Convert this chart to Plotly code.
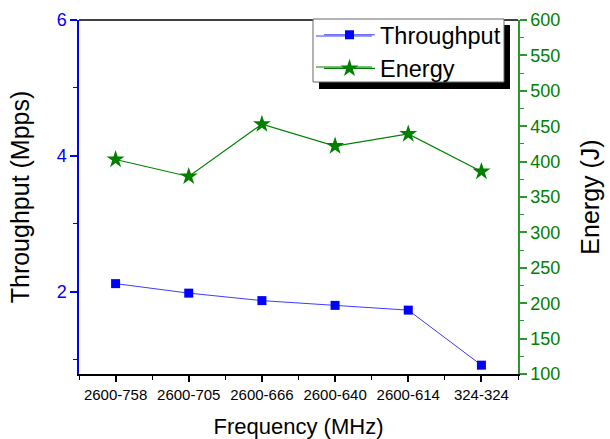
import plotly.graph_objects as go

categories = ["2600-758", "2600-705", "2600-666", "2600-640", "2600-614", "324-324"]
throughput = [2.12, 1.98, 1.87, 1.80, 1.73, 0.92]
energy = [403, 379, 453, 422, 439, 386]

FONT = "Arial, Liberation Sans, sans-serif"
BLUE = "#0000ff"
GREEN = "#008000"
AXGREEN = "#2f962f"

# plot area in px
L, R, T, B = 79, 518, 20, 374
W, H = 610, 439

def px(x):
    return (x - L) / (R - L)

def py(y):
    return (B - y) / (B - T)

xpos = list(range(len(categories)))

fig = go.Figure()
fig.add_trace(go.Scatter(
    x=xpos, y=throughput, name="Throughput", mode="lines+markers",
    line=dict(color="#3c3cff", width=1),
    marker=dict(symbol="square", size=9, color=BLUE),
    yaxis="y",
))
fig.add_trace(go.Scatter(
    x=xpos, y=energy, name="Energy", mode="lines+markers",
    line=dict(color=GREEN, width=1.2),
    marker=dict(symbol="star", size=13.5, color=GREEN),
    yaxis="y2",
))

shapes = [
    # top frame line
    dict(type="line", xref="paper", yref="paper", x0=0, x1=1, y0=1, y1=1,
         line=dict(color="black", width=1.5), layer="below"),
    # legend shadow
    dict(type="rect", xref="paper", yref="paper",
         x0=px(319), x1=px(510), y0=py(89), y1=py(25),
         fillcolor="black", line=dict(width=0), layer="below"),
    # legend box
    dict(type="rect", xref="paper", yref="paper",
         x0=px(313), x1=px(504), y0=py(82), y1=py(19),
         fillcolor="white", line=dict(color="#666666", width=1), layer="below"),
    # legend sample lines (longer than plotly's default)
    dict(type="line", xref="paper", yref="paper", x0=px(316), x1=px(372), y0=py(36), y1=py(36),
         line=dict(color="#3c3cff", width=1), layer="below"),
    dict(type="line", xref="paper", yref="paper", x0=px(316), x1=px(372), y0=py(67), y1=py(67),
         line=dict(color=GREEN, width=1.2), layer="below"),
]

fig.update_layout(
    width=W, height=H,
    margin=dict(l=L, r=W - R, t=T, b=H - B, autoexpand=False),
    paper_bgcolor="white", plot_bgcolor="rgba(0,0,0,0)",
    font=dict(family=FONT, color="black"),
    xaxis=dict(
        range=[-0.5, 5.5], tickmode="array", tickvals=xpos, ticktext=categories,
        showgrid=False, zeroline=False,
        showline=True, linecolor="black", linewidth=1.5, mirror=False,
        ticks="outside", ticklen=6, tickwidth=1.5, tickcolor="black",
        tickfont=dict(size=15, color="black"),
        minor=dict(dtick=0.5, tick0=-0.5, ticks="outside", ticklen=4, tickwidth=1.2, tickcolor="black", showgrid=False),
        title=dict(text="Frequency (MHz)", font=dict(size=22, color="black"), standoff=18),
    ),
    yaxis=dict(
        range=[0.79, 6.0], tickmode="linear", tick0=0, dtick=2,
        showgrid=False, zeroline=False,
        showline=True, linecolor=BLUE, linewidth=1.5,
        ticks="outside", ticklen=7, tickwidth=1.5, tickcolor=BLUE,
        tickfont=dict(size=18, color=BLUE),
        minor=dict(dtick=1, tick0=0, ticks="outside", ticklen=4, tickwidth=1.2, tickcolor=BLUE, showgrid=False),
        title=dict(text="Throughput (Mpps)", font=dict(size=25, color="black"), standoff=20),
    ),
    yaxis2=dict(
        range=[100, 600], overlaying="y", side="right",
        tickmode="linear", tick0=100, dtick=50,
        showgrid=False, zeroline=False,
        showline=True, linecolor=AXGREEN, linewidth=1.5,
        ticks="outside", ticklen=7, tickwidth=1.5, tickcolor=AXGREEN,
        tickfont=dict(size=18, color=GREEN),
        minor=dict(dtick=25, tick0=100, ticks="outside", ticklen=4, tickwidth=1.2, tickcolor=AXGREEN, showgrid=False),
        title=dict(text="Energy (J)", font=dict(size=25, color="black"), standoff=22),
    ),
    showlegend=True,
    legend=dict(
        x=px(319), y=py(13), xanchor="left", yanchor="top",
        bgcolor="rgba(0,0,0,0)", borderwidth=0,
        font=dict(size=23.5, color="black", family=FONT),
        tracegroupgap=0, itemwidth=51,
    ),
    shapes=shapes,
)

fig.write_html("out.html")
